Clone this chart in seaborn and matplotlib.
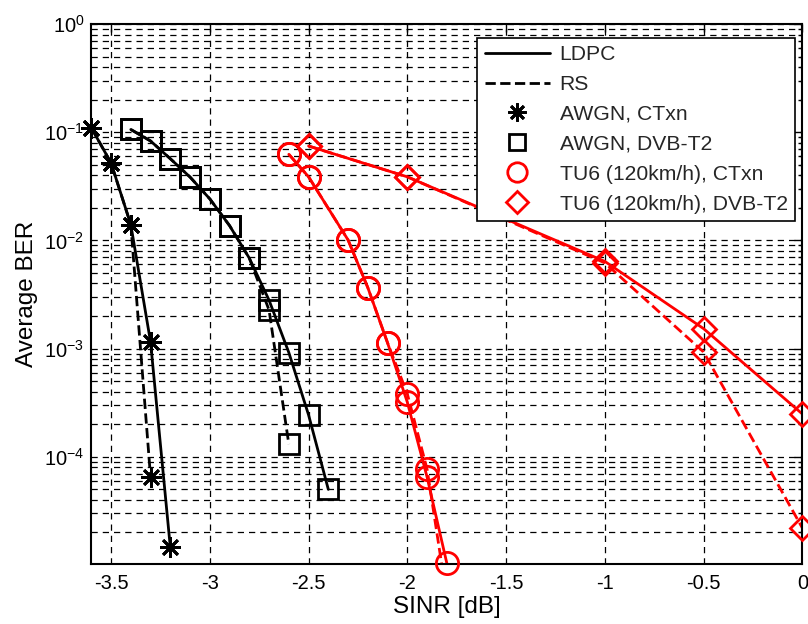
import numpy as np
import matplotlib
matplotlib.use("Agg")
import matplotlib.pyplot as plt
from matplotlib.lines import Line2D
from matplotlib.ticker import LogLocator, NullFormatter
import seaborn as sns

# AWGN, CTxn (star)
awgn_ctxn_ldpc_x = [-3.6, -3.5, -3.4, -3.3, -3.2]
awgn_ctxn_ldpc_y = [0.110, 0.052, 0.014, 1.15e-3, 1.46e-5]
awgn_ctxn_rs_x = [-3.6, -3.5, -3.4, -3.3]
awgn_ctxn_rs_y = [0.110, 0.052, 0.014, 6.5e-5]

# AWGN, DVB-T2 (square)
awgn_dvb_ldpc_x = [-3.4, -3.3, -3.2, -3.1, -3.0, -2.9, -2.8, -2.7, -2.6, -2.5, -2.4]
awgn_dvb_ldpc_y = [0.106, 0.083, 0.0569, 0.0385, 0.0242, 0.0137, 0.00686,
                   2.8e-3, 9.2e-4, 2.44e-4, 5.0e-5]
awgn_dvb_rs_x = [-3.4, -3.3, -3.2, -3.1, -3.0, -2.9, -2.8, -2.7, -2.6]
awgn_dvb_rs_y = [0.106, 0.083, 0.0569, 0.0385, 0.0242, 0.0137, 0.00686,
                 2.27e-3, 1.31e-4]

# TU6 (120km/h), CTxn (circle)
tu6_ctxn_ldpc_x = [-2.6, -2.5, -2.3, -2.2, -2.1, -2.0, -1.9, -1.8]
tu6_ctxn_ldpc_y = [0.0625, 0.0387, 0.0101, 3.66e-3, 1.13e-3, 3.2e-4, 6.5e-5, 1.04e-5]
tu6_ctxn_rs_x = [-2.6, -2.5, -2.3, -2.2, -2.1, -2.0, -1.9, -1.8]
tu6_ctxn_rs_y = [0.0625, 0.0387, 0.0101, 3.66e-3, 1.13e-3, 3.82e-4, 7.7e-5, 5e-6]

# TU6 (120km/h), DVB-T2 (diamond)
tu6_dvb_ldpc_x = [-2.5, -2.0, -1.0, -0.5, 0.0]
tu6_dvb_ldpc_y = [0.0746, 0.0387, 6.4e-3, 1.53e-3, 2.49e-4]
tu6_dvb_rs_x = [-2.5, -2.0, -1.0, -0.5, 0.0]
tu6_dvb_rs_y = [0.0746, 0.0387, 6.2e-3, 9.3e-4, 2.2e-5]

legend_labels = ["LDPC", "RS", "AWGN, CTxn", "AWGN, DVB-T2",
                 "TU6 (120km/h), CTxn", "TU6 (120km/h), DVB-T2"]

x_ticks = [-3.5, -3.0, -2.5, -2.0, -1.5, -1.0, -0.5, 0.0]
x_tick_labels = ["-3.5", "-3", "-2.5", "-2", "-1.5", "-1", "-0.5", "0"]

sns.set_style("white")
plt.rcParams["font.family"] = ["Liberation Sans", "DejaVu Sans"]
plt.rcParams["mathtext.fontset"] = "custom"
plt.rcParams["mathtext.rm"] = "Liberation Sans"
plt.rcParams["mathtext.it"] = "Liberation Sans"

fig = plt.figure(figsize=(8.08, 6.24), dpi=100)
ax = fig.add_axes([0.113, 0.096, 0.88, 0.8655])

ylim = (1.02e-5, 1.0)
star = (8, 2, 0)

series = [
    (awgn_ctxn_ldpc_x, awgn_ctxn_ldpc_y, "black", "-", star, 15),
    (awgn_ctxn_rs_x, awgn_ctxn_rs_y, "black", "--", star, 15),
    (awgn_dvb_ldpc_x, awgn_dvb_ldpc_y, "black", "-", "s", 14),
    (awgn_dvb_rs_x, awgn_dvb_rs_y, "black", "--", "s", 14),
    (tu6_ctxn_ldpc_x, tu6_ctxn_ldpc_y, "red", "-", "o", 16),
    (tu6_ctxn_rs_x, tu6_ctxn_rs_y, "red", "--", "o", 16),
    (tu6_dvb_ldpc_x, tu6_dvb_ldpc_y, "red", "-", "D", 12),
    (tu6_dvb_rs_x, tu6_dvb_rs_y, "red", "--", "D", 12),
]

for xs, ys, col, ls, mk, ms in series:
    sns.lineplot(x=xs, y=ys, ax=ax, color=col, linestyle=ls, linewidth=2,
                 sort=False, estimator=None)
    xs_a, ys_a = np.array(xs), np.array(ys)
    # markers are not clipped at the frame, but points off the axes stay hidden
    keep = ys_a >= 1e-5
    ax.plot(xs_a[keep], ys_a[keep], linestyle="none", marker=mk, markersize=ms,
            markerfacecolor="none", markeredgecolor=col, markeredgewidth=2,
            clip_on=False, zorder=3)

ax.set_yscale("log")
ax.set_xlim(-3.6, 0)
ax.set_ylim(*ylim)
ax.set_xticks(x_ticks)
ax.set_xticklabels(x_tick_labels)
ax.yaxis.set_major_locator(LogLocator(base=10, numticks=10))
ax.yaxis.set_minor_locator(LogLocator(base=10, subs=np.arange(2, 10), numticks=20))
ax.yaxis.set_minor_formatter(NullFormatter())

ax.grid(True, which="major", axis="both", color="black", linestyle=(0, (5, 4)), linewidth=0.9)
ax.grid(True, which="minor", axis="y", color="black", linestyle=(0, (5, 4)), linewidth=0.9)
ax.set_axisbelow(True)

ax.tick_params(which="both", direction="in", top=True, right=True, labelsize=14.5,
               color="black", labelcolor="black")
ax.tick_params(which="major", length=6, width=1)
ax.tick_params(which="minor", length=3, width=1)
ax.tick_params(axis="x", which="major", pad=7)
ax.tick_params(axis="y", which="major", pad=5)
for sp in ax.spines.values():
    sp.set_color("black")
    sp.set_linewidth(1.5)

ax.set_xlabel("SINR [dB]", fontsize=17.5, color="black", labelpad=2)
ax.set_ylabel("Average BER", fontsize=17.5, color="black", labelpad=4)

handles = [
    Line2D([], [], color="black", linestyle="-", linewidth=2),
    Line2D([], [], color="black", linestyle="--", linewidth=2),
    Line2D([], [], color="black", linestyle="none", marker=star, markersize=13,
           markeredgewidth=2),
    Line2D([], [], color="black", linestyle="none", marker="s", markersize=12,
           markerfacecolor="none", markeredgewidth=2),
    Line2D([], [], color="red", linestyle="none", marker="o", markersize=14,
           markerfacecolor="none", markeredgewidth=2),
    Line2D([], [], color="red", linestyle="none", marker="D", markersize=11,
           markerfacecolor="none", markeredgewidth=2),
]
leg = ax.legend(handles, legend_labels, loc="upper right", bbox_to_anchor=(0.99, 0.975),
                fontsize=15.2, frameon=True, fancybox=False, framealpha=1,
                edgecolor="black", handlelength=3.1, handletextpad=0.45,
                borderpad=0.35, labelspacing=0.52, borderaxespad=0)
leg.get_frame().set_linewidth(1.2)

fig.savefig("out.png", dpi=100)
